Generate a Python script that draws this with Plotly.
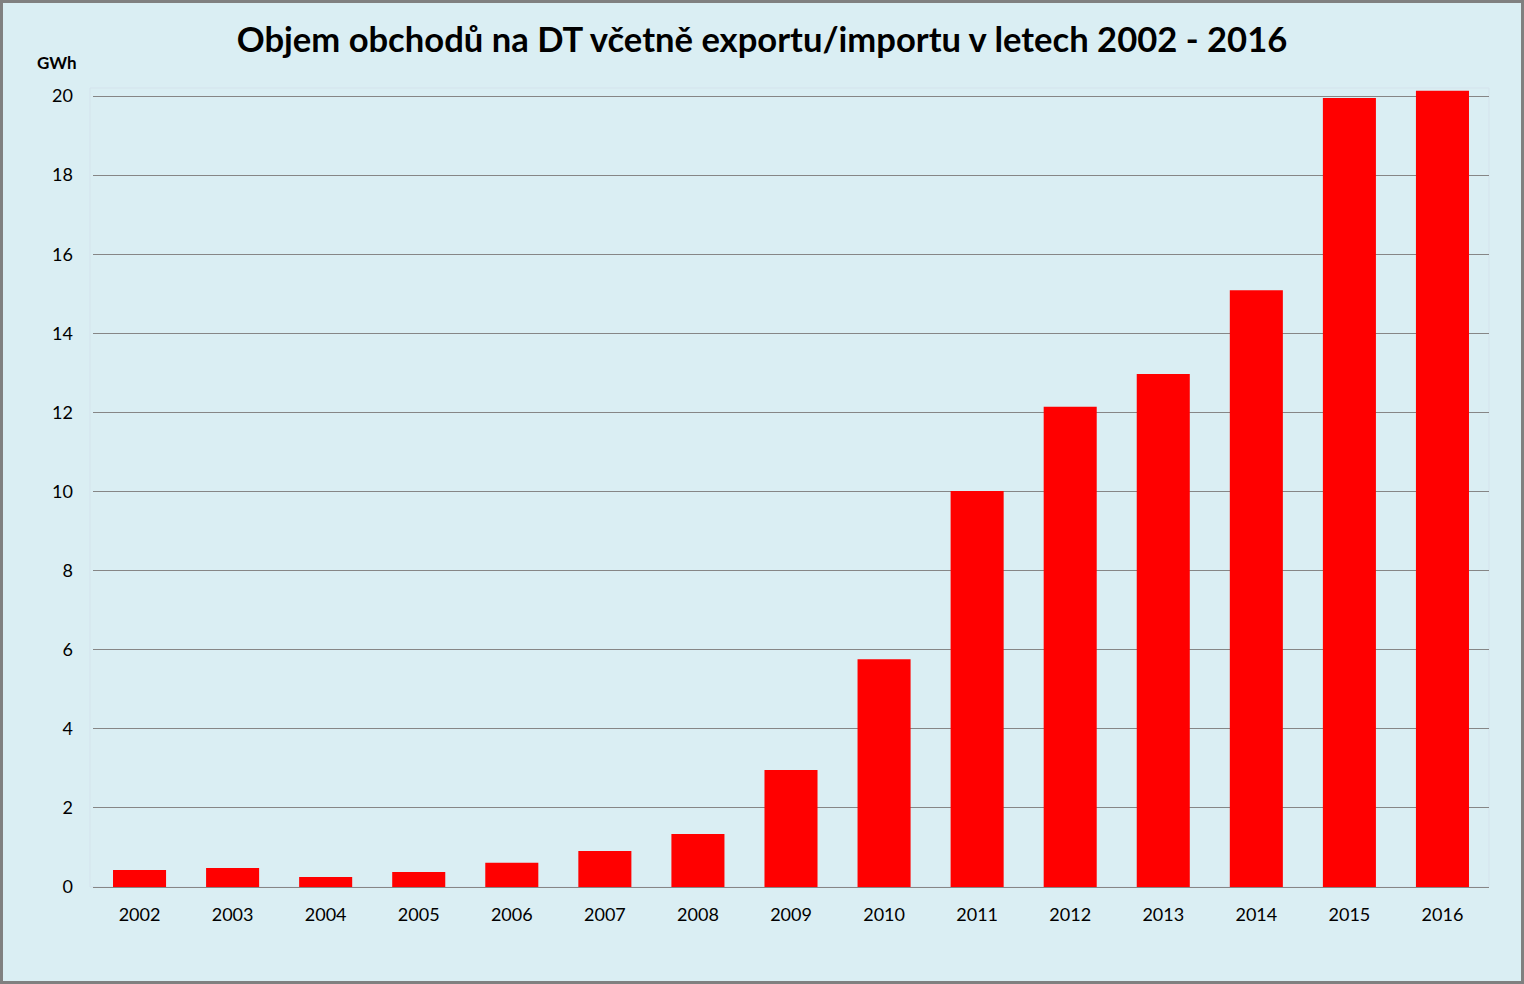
import plotly.graph_objects as go

years = ["2002", "2003", "2004", "2005", "2006", "2007", "2008", "2009",
         "2010", "2011", "2012", "2013", "2014", "2015", "2016"]
volume_gwh = [0.43, 0.48, 0.25, 0.38, 0.61, 0.91, 1.34, 2.96,
              5.76, 10.01, 12.14, 12.97, 15.09, 19.95, 20.13]
y_ticks = [0, 2, 4, 6, 8, 10, 12, 14, 16, 18, 20]

title_text = "Objem obchodů na DT včetně exportu/importu v letech 2002 - 2016"
unit_text = "GWh"

bg = "#DAEEF3"
W, H = 1524, 984
L, R, T, B = 93, 35, 88, 97
pw, ph = W - L - R, H - T - B


def px_x(x):
    return (x - L) / pw


def px_y(y):
    return (H - B - y) / ph


fig = go.Figure(go.Bar(
    x=years, y=volume_gwh,
    marker=dict(color="#FF0000", line=dict(width=0)),
    hoverinfo="x+y",
))

fig.update_layout(
    width=W, height=H,
    paper_bgcolor=bg, plot_bgcolor=bg,
    margin=dict(l=L, r=R, t=T, b=B),
    bargap=0.43,
    showlegend=False,
    font=dict(family="Lato, Open Sans, sans-serif", size=18, color="#000000"),
    title=dict(text="<b>" + title_text + "</b>", x=0.5, xanchor="center",
               y=1 - 40 / H, yanchor="middle",
               font=dict(family="Lato, Open Sans, sans-serif", size=34.6, color="#000000")),
    xaxis=dict(type="category", showgrid=False, showline=True, linecolor="#868686",
               linewidth=1, ticks="", tickfont=dict(size=18), ticklabelstandoff=11),
    yaxis=dict(range=[0, ph / 39.55], tickvals=y_ticks, showgrid=True,
               gridcolor="#868686", gridwidth=1, zeroline=False, showline=False,
               ticks="", tickfont=dict(size=18), ticklabelstandoff=19),
    annotations=[dict(text="<b>" + unit_text + "</b>", xref="paper", yref="paper",
                      x=px_x(57), y=px_y(63), xanchor="center", yanchor="middle",
                      showarrow=False, font=dict(size=17, color="#000000"))],
    shapes=[
        dict(type="rect", xref="paper", yref="paper",
             x0=px_x(90), x1=px_x(1489), y0=0, y1=1,
             line=dict(color="#D4E3EC", width=1), fillcolor="rgba(0,0,0,0)", layer="below"),
        dict(type="rect", xref="paper", yref="paper",
             x0=px_x(1.5), x1=px_x(W - 1.5),
             y0=px_y(H - 1.5), y1=px_y(1.5),
             line=dict(color="#808080", width=3), fillcolor="rgba(0,0,0,0)", layer="above"),
    ],
)

fig.write_html("out.html", config={"displayModeBar": False},
               post_script="document.body.style.margin='0';document.body.style.padding='0';")
